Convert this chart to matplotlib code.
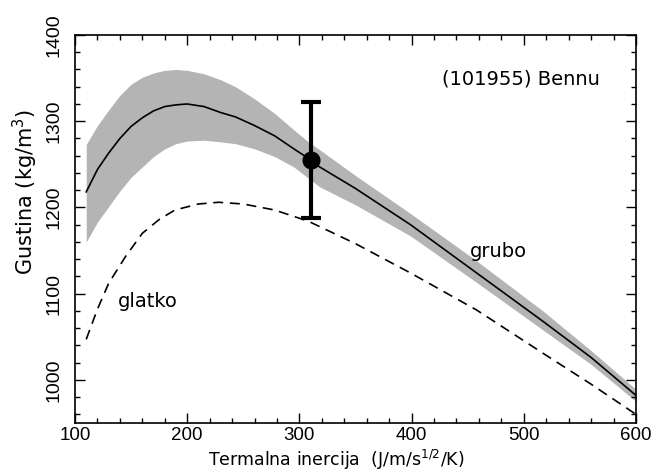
import numpy as np
import matplotlib
matplotlib.use('Agg')
import matplotlib.pyplot as plt
from matplotlib.ticker import MultipleLocator

# ---- podaci ocitani sa slike ----
inercija = [110, 120, 130, 140, 150, 160, 170, 180, 190, 200, 215, 230, 243, 260, 278, 295, 308,
            318, 350, 399, 458, 517, 560, 600]
gustina_grubo = [1218, 1244, 1263, 1280, 1294, 1304, 1312, 1317, 1319, 1320, 1317, 1310, 1305, 1295, 1283, 1268, 1257,
                 1247, 1222, 1180, 1124, 1068, 1026, 982]
gornja_granica = [1273, 1295, 1313, 1330, 1343, 1351, 1356, 1359, 1360, 1359, 1355, 1348, 1340, 1326, 1309, 1290, 1276,
                  1267, 1237, 1193, 1138, 1080, 1034, 989]
donja_granica = [1160, 1183, 1201, 1219, 1235, 1247, 1259, 1268, 1274, 1277, 1278, 1276, 1274, 1268, 1259, 1247, 1234,
                 1224, 1203, 1167, 1113, 1058, 1018, 975]

inercija_glatko = [110, 120, 130, 145, 160, 175, 189, 210, 228, 250, 278, 308, 350, 399, 458, 517, 560, 600]
gustina_glatko = [1047, 1082, 1112, 1143, 1170, 1186, 1197, 1204, 1206, 1204, 1197, 1184, 1158, 1124, 1081, 1031, 995, 960]

bennu_x = 310
bennu_y = 1255
bennu_gore = 1322
bennu_dole = 1188

fig = plt.figure(figsize=(6.55, 4.73), dpi=100)
ax = fig.add_axes([0.1145, 0.1057, 0.8565, 0.8203])

ax.fill_between(inercija, donja_granica, gornja_granica, color='#b4b4b4', lw=0)
ax.plot(inercija, gustina_grubo, color='black', lw=1.2)
ax.plot(inercija_glatko, gustina_glatko, color='black', lw=1.2, linestyle=(0, (6, 4)))

ax.errorbar([bennu_x], [bennu_y],
            yerr=[[bennu_y - bennu_dole], [bennu_gore - bennu_y]],
            fmt='o', color='black', markersize=12, elinewidth=3,
            capsize=7, capthick=3)

ax.text(427, 1343, '(101955) Bennu', fontsize=14)
ax.text(452, 1142, 'grubo', fontsize=14)
ax.text(138, 1084, 'glatko', fontsize=14)

ax.set_xlim(100, 600)
ax.set_ylim(950, 1400)
ax.xaxis.set_major_locator(MultipleLocator(100))
ax.xaxis.set_minor_locator(MultipleLocator(20))
ax.yaxis.set_major_locator(MultipleLocator(100))
ax.yaxis.set_minor_locator(MultipleLocator(20))
ax.set_yticks([1000, 1100, 1200, 1300, 1400])

ax.tick_params(which='both', direction='in', top=True, right=True, width=1)
ax.tick_params(which='major', length=7)
ax.tick_params(which='minor', length=3.5)
ax.tick_params(axis='x', pad=3)
ax.tick_params(axis='y', pad=9)
for lab in ax.get_xticklabels() + ax.get_yticklabels():
    lab.set_fontfamily('Liberation Sans')
    lab.set_fontsize(14)
for lab in ax.get_xticklabels():
    lab.set_fontsize(13.5)
for lab in ax.get_yticklabels():
    lab.set_rotation(90)
    lab.set_va('center')
for sp in ax.spines.values():
    sp.set_linewidth(1.2)

ax.set_xlabel('Termalna inercija  (J/m/s$^{1/2}$/K)', fontsize=12.5)
ax.set_ylabel('Gustina (kg/m$^3$)', fontsize=15)
ax.xaxis.set_label_coords(0.465, -0.065)
ax.yaxis.set_label_coords(-0.062, 0.595)

fig.savefig('out.png', dpi=100)
